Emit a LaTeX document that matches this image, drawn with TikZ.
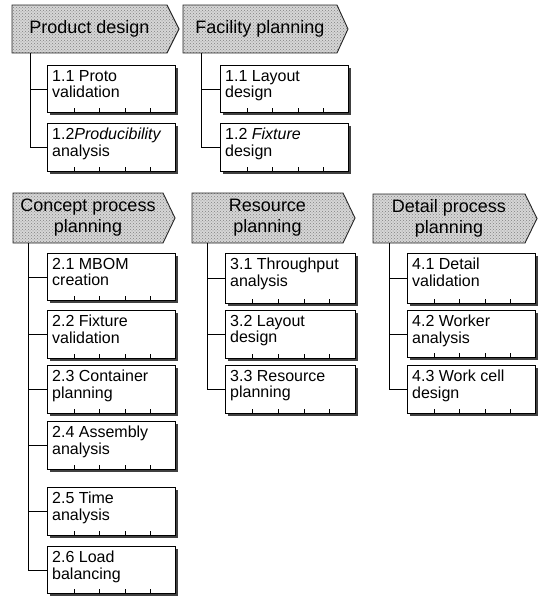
\documentclass[tikz,border=0pt]{standalone}
\usepackage{fontspec}
\setmainfont{Liberation Sans}
\usetikzlibrary{calc,patterns}
\newcommand\mybox[6]{%
  \fill[shadowbox] (#2+3,#3+3) rectangle (#4+3,#5+3);
  \node[box, minimum width=#4-#2, minimum height=#5-#3, anchor=north west] (#1) at (#2,#3) {};
  \foreach \f in {0.21,0.41,0.61,0.80}
    \draw[tick] ($(#1.south west)!\f!(#1.south east)$) -- ++(0,-5);
  \node[btext] (#1t) at ($(#1.north west)+(5,5)$) {#6};
}
\newcommand\hdr[7]{%
  \fill[fill=black!16] (#2,#3) -- (#4,#3) -- (#5,{(#3+#6)/2}) -- (#4,#6) -- (#2,#6) -- cycle;
  \fill[pattern=crosshatch dots, pattern color=black!50] (#2,#3) -- (#4,#3) -- (#5,{(#3+#6)/2}) -- (#4,#6) -- (#2,#6) -- cycle;
  \draw[hdrline] (#2,#3) -- (#4,#3) -- (#5,{(#3+#6)/2}) -- (#4,#6) -- (#2,#6) -- cycle;
  \node[hdrtext] (#1) at ({(#2+#4)/2},{(#3+#6)/2}) {#7};
}
\begin{document}
\begin{tikzpicture}[x=1pt,y=-1pt,
  hdrline/.style={draw=black!85, line width=0.9pt},
  hdrtext/.style={font=\fontsize{18}{21}\selectfont, align=center, inner sep=0pt},
  box/.style={draw=black, line width=0.8pt, fill=white, inner sep=0pt},
  shadowbox/.style={fill=black!75},
  tick/.style={draw=black, line width=0.8pt},
  btext/.style={font=\fontsize{16}{16.5}\selectfont, align=left, inner sep=0pt, anchor=north west},
  conn/.style={draw=black, line width=0.8pt}]
\useasboundingbox (0,0) rectangle (545,597);

% headers
\hdr{h1}{12}{5}{167}{179}{53}{Product design}
\hdr{h2}{183}{5}{337}{348}{53}{Facility planning}
\hdr{h3}{13}{193}{163}{175}{243}{Concept process\\planning}
\hdr{h4}{192}{193}{343}{355}{243}{Resource\\planning}
\hdr{h5}{373}{194}{525}{537}{243}{Detail process\\planning}

% product design
\mybox{a1}{47}{65}{175}{112}{1.1 Proto\\validation}
\mybox{a2}{47}{123}{175}{171}{1.2\textit{Producibility}\\analysis}
% facility planning
\mybox{b1}{220}{65}{348}{112}{1.1 Layout\\design}
\mybox{b2}{220}{123}{348}{171}{1.2 \textit{Fixture}\\design}
% concept process planning
\mybox{c1}{47}{253}{175}{300}{2.1 MBOM\\creation}
\mybox{c2}{47}{310}{175}{358}{2.2 Fixture\\validation}
\mybox{c3}{47}{365}{175}{413}{2.3 Container\\planning}
\mybox{c4}{47}{421}{175}{469}{2.4 Assembly\\analysis}
\mybox{c5}{47}{487}{175}{535}{2.5 Time\\analysis}
\mybox{c6}{47}{546}{175}{593}{2.6 Load\\balancing}
% resource planning
\mybox{r1}{225}{253}{355}{303}{3.1 Throughput\\analysis}
\mybox{r2}{225}{310}{355}{358}{3.2 Layout\\design}
\mybox{r3}{225}{365}{355}{413}{3.3 Resource\\planning}
% detail process planning
\mybox{d1}{407}{253}{535}{303}{4.1 Detail\\validation}
\mybox{d2}{407}{310}{535}{357}{4.2 Worker\\analysis}
\mybox{d3}{407}{365}{535}{413}{4.3 Work cell\\design}

% connectors
\coordinate (sa) at (30,53);
\coordinate (sb) at (201,53);
\coordinate (sc) at (28,243);
\coordinate (sd) at (207,243);
\coordinate (se) at (389,243);
\draw[conn] (sa) |- (a2.west);
\draw[conn] (sa |- a1.west) -- (a1.west);
\draw[conn] (sb) |- (b2.west);
\draw[conn] (sb |- b1.west) -- (b1.west);
\draw[conn] (sc) |- (c6.west);
\foreach \n in {c1,c2,c3,c4,c5} \draw[conn] (sc |- \n.west) -- (\n.west);
\draw[conn] (sd) |- (r3.west);
\foreach \n in {r1,r2} \draw[conn] (sd |- \n.west) -- (\n.west);
\draw[conn] (se) |- (d3.west);
\foreach \n in {d1,d2} \draw[conn] (se |- \n.west) -- (\n.west);
\end{tikzpicture}
\end{document}
